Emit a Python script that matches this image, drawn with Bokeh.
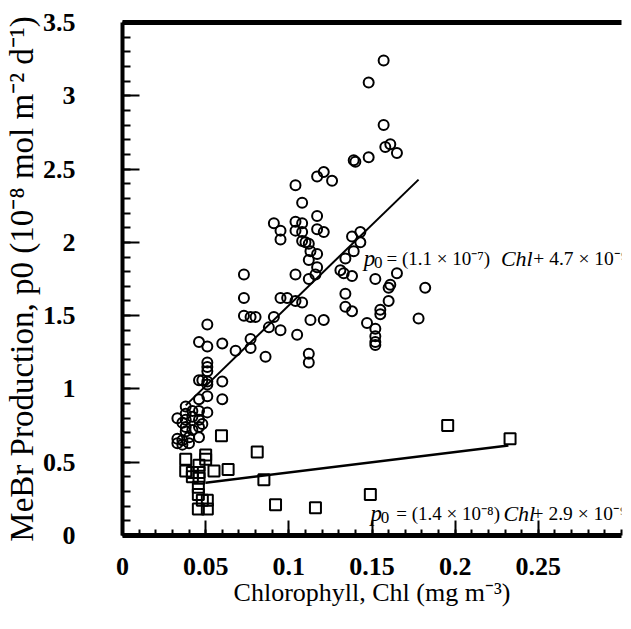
from bokeh.plotting import figure
from bokeh.models import Range1d, FixedTicker, LinearAxis, Label
from bokeh.embed import file_html
from bokeh.resources import INLINE

# ---------------- data (units: x = mg m^-3, y = 1e-8 mol m^-2 d^-1) ----------------
circle_x = [0.157, 0.148, 0.157, 0.158, 0.161, 0.165, 0.148, 0.139, 0.140, 0.121,
            0.117, 0.126, 0.104, 0.108, 0.117, 0.091, 0.104, 0.108, 0.095, 0.104,
            0.108, 0.117, 0.121, 0.095, 0.108, 0.110, 0.112, 0.113, 0.117, 0.112,
            0.117, 0.116, 0.112, 0.104, 0.138, 0.143, 0.143, 0.139, 0.134, 0.131,
            0.133, 0.138, 0.152, 0.165, 0.161, 0.160, 0.182, 0.134, 0.160, 0.134,
            0.138, 0.155, 0.155, 0.178, 0.147, 0.152, 0.152, 0.152, 0.152, 0.095,
            0.099, 0.104, 0.108, 0.091, 0.088, 0.095, 0.113, 0.121, 0.105, 0.086,
            0.112, 0.112, 0.080, 0.073, 0.073, 0.073, 0.077, 0.051, 0.046, 0.051,
            0.060, 0.068, 0.077, 0.077, 0.051, 0.051, 0.051, 0.046, 0.048, 0.051,
            0.051, 0.060, 0.060, 0.051, 0.046, 0.038, 0.033, 0.038, 0.038, 0.038,
            0.042, 0.042, 0.046, 0.046, 0.046, 0.051, 0.048, 0.033, 0.033, 0.036,
            0.036, 0.040, 0.040, 0.046, 0.038, 0.042, 0.036]
circle_y = [3.24, 3.09, 2.80, 2.65, 2.67, 2.61, 2.58, 2.56, 2.55, 2.48,
            2.45, 2.42, 2.39, 2.27, 2.18, 2.13, 2.14, 2.13, 2.08, 2.08,
            2.07, 2.09, 2.07, 2.02, 2.01, 2.00, 1.99, 1.94, 1.92, 1.88,
            1.83, 1.78, 1.75, 1.78, 2.04, 2.07, 2.00, 1.94, 1.89, 1.81,
            1.79, 1.77, 1.75, 1.79, 1.71, 1.69, 1.69, 1.65, 1.60, 1.56,
            1.53, 1.54, 1.51, 1.48, 1.45, 1.41, 1.36, 1.32, 1.30, 1.62,
            1.62, 1.60, 1.59, 1.49, 1.42, 1.40, 1.47, 1.47, 1.37, 1.22,
            1.24, 1.18, 1.49, 1.78, 1.62, 1.50, 1.49, 1.44, 1.32, 1.29,
            1.31, 1.26, 1.34, 1.28, 1.18, 1.15, 1.12, 1.06, 1.06, 1.05,
            1.03, 1.05, 0.93, 0.95, 0.93, 0.88, 0.80, 0.83, 0.79, 0.74,
            0.85, 0.81, 0.85, 0.79, 0.74, 0.84, 0.76, 0.66, 0.63, 0.65,
            0.62, 0.67, 0.63, 0.67, 0.71, 0.72, 0.77]

square_x = [0.0595, 0.081, 0.038, 0.050, 0.050, 0.038, 0.042, 0.042, 0.046, 0.046,
            0.046, 0.055, 0.0635, 0.085, 0.0456, 0.0456, 0.048, 0.051, 0.0456, 0.051,
            0.092, 0.116, 0.1955, 0.233, 0.149]
square_y = [0.68, 0.57, 0.52, 0.55, 0.52, 0.44, 0.43, 0.40, 0.48, 0.43,
            0.39, 0.44, 0.45, 0.38, 0.33, 0.28, 0.24, 0.24, 0.18, 0.18,
            0.21, 0.19, 0.75, 0.66, 0.28]

# regression lines  p0 = slope * Chl + intercept (in 1e-8 units)
fit1_slope, fit1_intercept = 11.0, 0.47
fit1_x = [0.038, 0.178]
fit2_slope, fit2_intercept = 1.4, 0.29
fit2_x = [0.050, 0.232]

x_ticks = [0, 0.05, 0.1, 0.15, 0.2, 0.25]
x_tick_labels = ["0", "0.05", "0.1", "0.15", "0.2", "0.25"]
x_minor = [i / 100 for i in range(0, 31)]
y_ticks = [0, 0.5, 1, 1.5, 2, 2.5, 3, 3.5]
y_tick_labels = ["0", "0.5", "1", "1.5", "2", "2.5", "3", "3.5"]
y_minor = [i / 10 for i in range(0, 36)]

fit1_y = [fit1_slope * v + fit1_intercept for v in fit1_x]
fit2_y = [fit2_slope * v + fit2_intercept for v in fit2_x]

FONT = "Liberation Serif"

p = figure(width=631, height=621, output_backend="svg", toolbar_location=None,
           x_range=Range1d(0, 0.30), y_range=Range1d(0, 3.5),
           min_border_left=116, min_border_top=22, min_border_right=10,
           min_border_bottom=86, background_fill_color="white",
           border_fill_color="white")
p.outline_line_color = None
p.xgrid.visible = False
p.ygrid.visible = False

# axes
xa = p.xaxis[0]
xa.ticker = FixedTicker(ticks=x_ticks, minor_ticks=x_minor)
xa.major_label_overrides = dict(zip(x_ticks, x_tick_labels))
ya = p.yaxis[0]
ya.ticker = FixedTicker(ticks=y_ticks, minor_ticks=y_minor)
ya.major_label_overrides = dict(zip(y_ticks, y_tick_labels))

for ax in (xa, ya):
    ax.axis_line_color = "black"
    ax.major_tick_line_color = "black"
    ax.minor_tick_line_color = "black"
    ax.major_tick_line_width = 2
    ax.minor_tick_line_width = 2
    ax.major_tick_out = 0
    ax.minor_tick_out = 0
    ax.major_label_text_font = FONT
    ax.major_label_text_font_style = "bold"
    ax.major_label_text_font_size = "26px"
    ax.major_label_text_color = "black"
    ax.axis_label_text_font = FONT
    ax.axis_label_text_font_style = "normal"
    ax.axis_label_text_color = "black"

xa.axis_line_width = 5
xa.major_tick_in = 15
xa.minor_tick_in = 6
xa.major_label_standoff = 22
xa.axis_label = "Chlorophyll, Chl (mg m\u207b\u00b3)"
xa.axis_label_text_font_size = "26px"
xa.axis_label_standoff = 0

ya.axis_line_width = 4
ya.major_tick_in = 17
ya.minor_tick_in = 8
ya.major_label_standoff = 47
ya.axis_label = "MeBr Production, p0 (10\u207b\u2078 mol m\u207b\u00b2 d\u207b\u00b9)"
ya.axis_label_text_font_size = "33px"
ya.axis_label_standoff = 0

top = LinearAxis(ticker=FixedTicker(ticks=[]), axis_line_width=5,
                 axis_line_color="black", major_label_text_font_size="0px",
                 major_tick_line_color=None, minor_tick_line_color=None)
p.add_layout(top, "above")

# data marks
p.scatter(circle_x, circle_y, marker="circle", size=10, fill_alpha=0,
          line_color="black", line_width=2)
p.scatter(square_x, square_y, marker="square", size=11, fill_alpha=0,
          line_color="black", line_width=2)
p.line(fit1_x, fit1_y, line_color="black", line_width=2)
p.line(fit2_x, fit2_y, line_color="black", line_width=2.5)

# equations
def add_text(x, y, txt, style, size):
    p.add_layout(Label(x=x, y=y, text=txt, text_font=FONT, text_font_style=style,
                       text_font_size=size, text_baseline="middle",
                       text_align="left", text_color="black"))

def equation(x_p, x_eq, x_chl, x_plus, y, coef, const):
    add_text(x_p, y, "p", "italic", "23px")
    add_text(x_p + 0.0062, y - 0.03, "0", "normal", "17px")
    add_text(x_eq, y, "= (" + coef + ")", "normal", "19px")
    add_text(x_chl, y, "Chl", "italic", "22px")
    add_text(x_plus, y, "+ " + const, "normal", "19.5px")

equation(0.1450, 0.1587, 0.2275, 0.2470, 1.89,
         "1.1 \u00d7 10\u207b\u2077", "4.7 \u00d7 10\u207b\u2079")
equation(0.1491, 0.1646, 0.2290, 0.2465, 0.15,
         "1.4 \u00d7 10\u207b\u2078", "2.9 \u00d7 10\u207b\u2079")

open("out.html", "w").write(file_html(p, INLINE))
